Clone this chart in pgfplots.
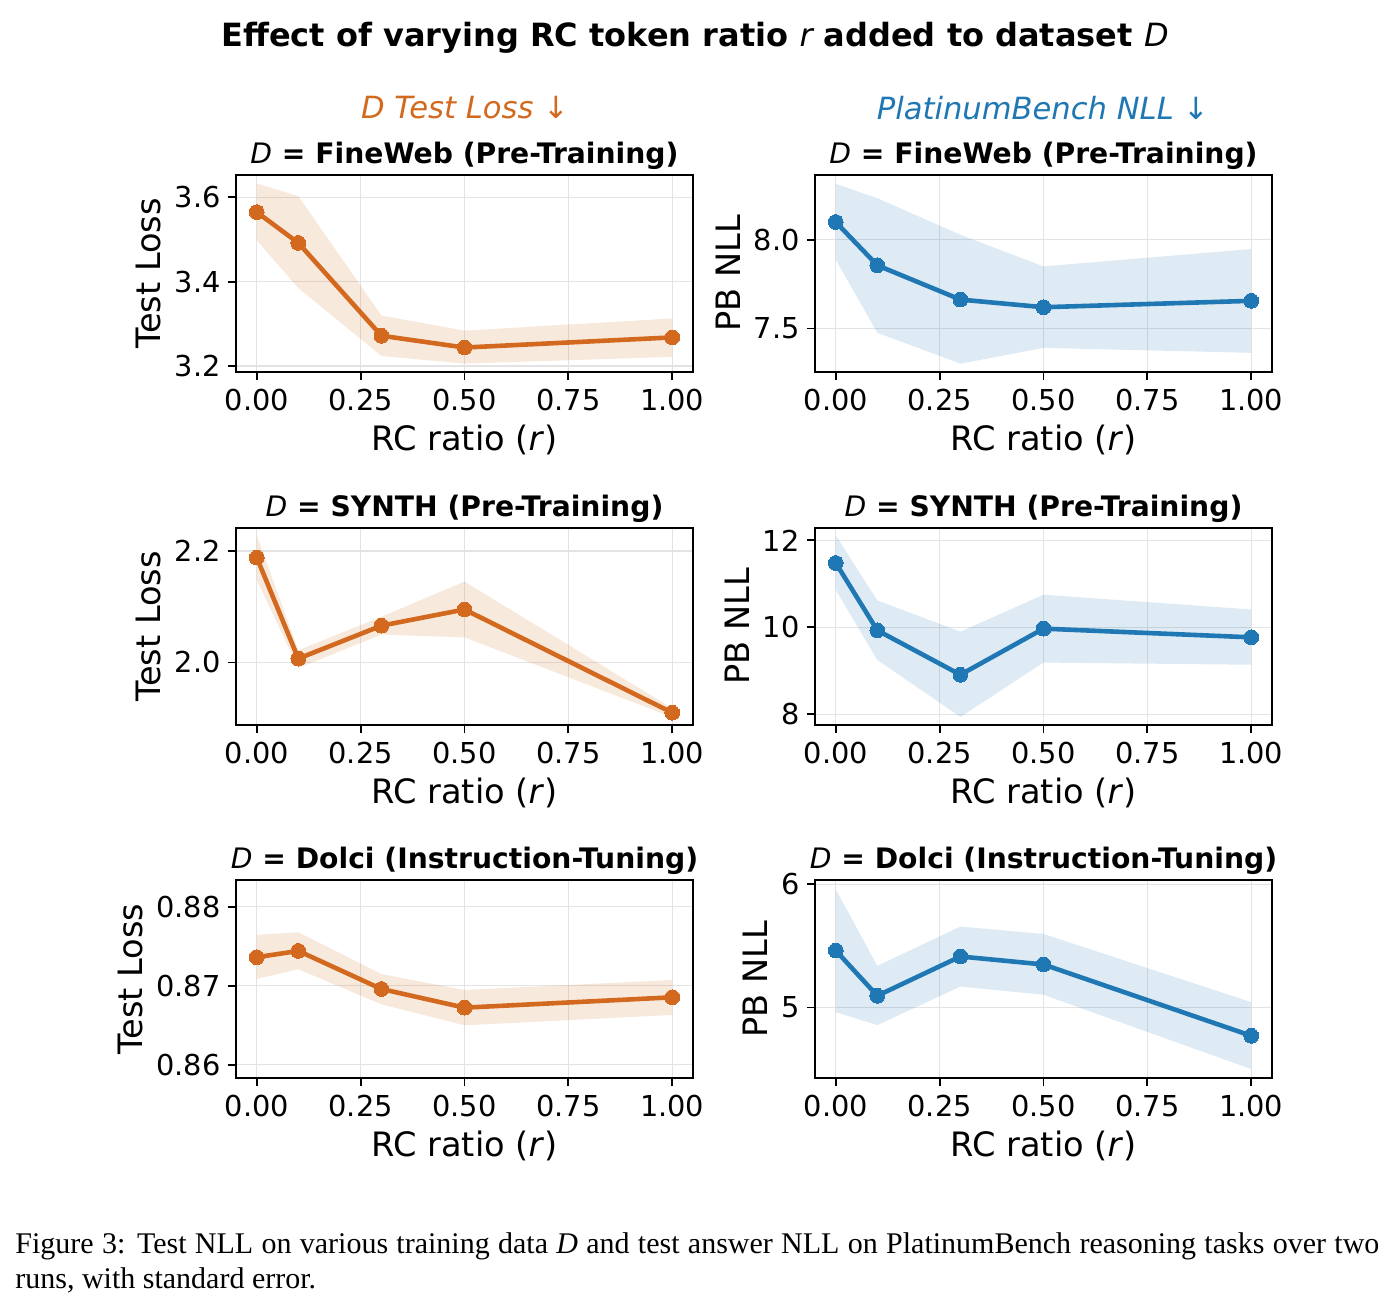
\documentclass[border=0pt]{standalone}
\usepackage{fontspec}
\setmainfont{DejaVu Sans}
\newfontfamily\captionfont{Liberation Serif}
\usepackage{pgfplots}
\pgfplotsset{compat=1.18}
\usepackage{pgfplotstable}

\definecolor{lossorange}{RGB}{210,105,30}
\definecolor{nllblue}{RGB}{31,119,180}

% columns: RC ratio, mean, mean - s.e., mean + s.e.
\pgfplotstableread{
r    m       lo      hi
0    3.565   3.498   3.633
0.1  3.492   3.385   3.603
0.3  3.272   3.224   3.320
0.5  3.244   3.206   3.284
1.0  3.268   3.222   3.313
}\fineloss
\pgfplotstableread{
r    m       lo      hi
0    8.100   7.888   8.315
0.1  7.856   7.476   8.234
0.3  7.663   7.302   8.028
0.5  7.620   7.391   7.850
1.0  7.656   7.363   7.948
}\finenll
\pgfplotstableread{
r    m       lo      hi
0    2.188   2.148   2.228
0.1  2.007   1.990   2.022
0.3  2.066   2.050   2.082
0.5  2.095   2.045   2.145
1.0  1.910   1.902   1.918
}\synthloss
\pgfplotstableread{
r    m       lo      hi
0    11.48   10.86   12.11
0.1  9.93    9.25    10.62
0.3  8.91    7.94    9.90
0.5  9.97    9.19    10.75
1.0  9.77    9.14    10.41
}\synthnll
\pgfplotstableread{
r    m        lo       hi
0    0.87360  0.87086  0.87642
0.1  0.87440  0.87208  0.87676
0.3  0.86958  0.86764  0.87147
0.5  0.86722  0.86499  0.86945
1.0  0.86853  0.86630  0.87072
}\dolciloss
\pgfplotstableread{
r    m       lo      hi
0    5.462   4.962   5.959
0.1  5.095   4.857   5.338
0.3  5.414   5.170   5.657
0.5  5.349   5.103   5.597
1.0  4.770   4.500   5.043
}\dolcinll

\pgfplotsset{
  panel/.style={
    scale only axis, width=228.5pt, height=98.5pt,
    anchor=north west,
    xmin=-0.05, xmax=1.05,
    xtick={0,0.25,0.5,0.75,1},
    xticklabels={0.00,0.25,0.50,0.75,1.00},
    tick align=outside, tick pos=left,
    major tick length=4.2pt,
    tick style={black, line width=0.95pt},
    axis line style={line width=0.95pt},
    grid=major,
    major grid style={line width=0.7pt, color=black!11},
    tick label style={font=\fontsize{14.4}{16}\selectfont},
    xticklabel style={yshift=-0.8pt},
    label style={font=\fontsize{16.8}{19}\selectfont},
    title style={font=\fontsize{14.1}{16}\selectfont\bfseries, yshift=-6.8pt},
    xlabel={RC ratio (\textit{r})},
  },
  lossband/.style={fill=lossorange, fill opacity=0.15, draw=none},
  nllband/.style={fill=nllblue, fill opacity=0.15, draw=none},
  lossline/.style={lossorange, line width=2.3pt, mark=*, mark size=3.7pt,
    mark options={solid, fill=lossorange, draw=lossorange, line width=0pt}},
  nllline/.style={nllblue, line width=2.3pt, mark=*, mark size=3.7pt,
    mark options={solid, fill=nllblue, draw=nllblue, line width=0pt}},
}

% one panel: mean curve over a shaded standard-error band
\newcommand{\bandplot}[3]{%
  \addplot[draw=none, stack plots=y, forget plot] table[x=r, y=lo] {#1};
  \addplot[#2, stack plots=y, forget plot]
    table[x=r, y expr=\thisrow{hi}-\thisrow{lo}] {#1} \closedcycle;
  \addplot[#3, stack plots=false] table[x=r, y=m] {#1};
}

\begin{document}
\begin{tikzpicture}
\path[use as bounding box] (0pt,0pt) rectangle (696pt,-656pt);

\node[font=\fontsize{16}{19}\selectfont\bfseries] at (347.5pt,-19pt)
  {Effect of varying RC token ratio {\mdseries\itshape r} added to dataset {\mdseries\itshape D}};
\node[font=\fontsize{15.3}{18}\selectfont\itshape, text=lossorange] at (232.5pt,-54pt)
  {D Test Loss {\upshape ↓}};
\node[font=\fontsize{15.3}{18}\selectfont\itshape, text=nllblue] at (521.5pt,-54pt)
  {PlatinumBench NLL {\upshape ↓}};

% row 1: FineWeb
\begin{axis}[panel, at={(118pt,-87.5pt)},
  ymin=3.186, ymax=3.653, ytick={3.2,3.4,3.6}, yticklabels={3.2,3.4,3.6},
  ylabel={Test Loss}, title={{\mdseries\itshape D} = FineWeb (Pre-Training)}]
  \bandplot{\fineloss}{lossband}{lossline}
\end{axis}
\begin{axis}[panel, at={(407.5pt,-87.5pt)},
  ymin=7.255, ymax=8.365, ytick={7.5,8.0}, yticklabels={7.5,8.0},
  ylabel={PB NLL}, title={{\mdseries\itshape D} = FineWeb (Pre-Training)}]
  \bandplot{\finenll}{nllband}{nllline}
\end{axis}

% row 2: SYNTH
\begin{axis}[panel, at={(118pt,-264pt)},
  ymin=1.888, ymax=2.241, ytick={2.0,2.2}, yticklabels={2.0,2.2},
  ylabel={Test Loss}, title={{\mdseries\itshape D} = SYNTH (Pre-Training)}]
  \bandplot{\synthloss}{lossband}{lossline}
\end{axis}
\begin{axis}[panel, at={(407.5pt,-264pt)},
  ymin=7.754, ymax=12.284, ytick={8,10,12}, yticklabels={8,10,12},
  ylabel={PB NLL}, title={{\mdseries\itshape D} = SYNTH (Pre-Training)}]
  \bandplot{\synthnll}{nllband}{nllline}
\end{axis}

% row 3: Dolci
\begin{axis}[panel, at={(118pt,-440pt)}, height=99pt,
  ymin=0.85832, ymax=0.88337, ytick={0.86,0.87,0.88}, yticklabels={0.86,0.87,0.88},
  ylabel={Test Loss}, title={{\mdseries\itshape D} = Dolci (Instruction-Tuning)}]
  \bandplot{\dolciloss}{lossband}{lossline}
\end{axis}
\begin{axis}[panel, at={(407.5pt,-440pt)}, height=99pt,
  ymin=4.427, ymax=6.035, ytick={5,6}, yticklabels={5,6},
  ylabel={PB NLL}, title={{\mdseries\itshape D} = Dolci (Instruction-Tuning)}]
  \bandplot{\dolcinll}{nllband}{nllline}
\end{axis}

\node[anchor=north west, inner sep=0pt, text width=682pt, align=justify,
  font=\captionfont\fontsize{15}{17.5}\selectfont] at (7.5pt,-616pt)
  {Figure 3: Test NLL on various training data \textit{D} and test answer NLL on PlatinumBench reasoning tasks over two runs, with standard error.};
\end{tikzpicture}
\end{document}
